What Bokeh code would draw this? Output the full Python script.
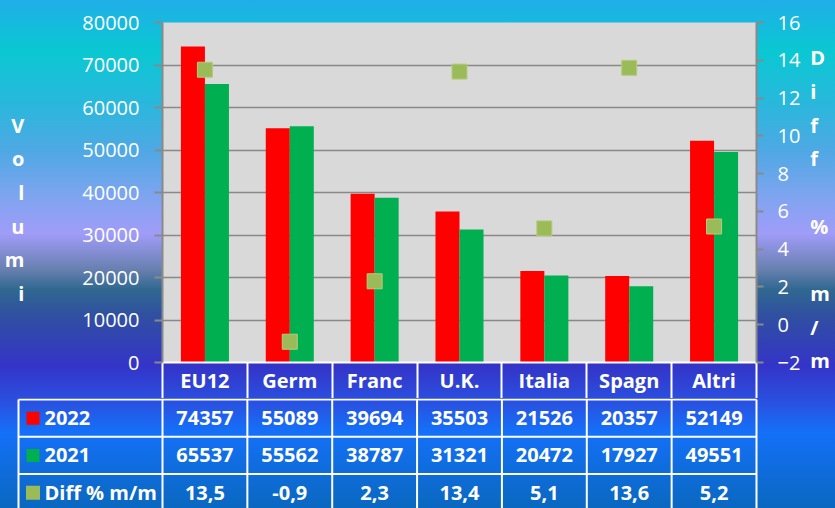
import numpy as np
from bokeh.plotting import figure
from bokeh.models import (Range1d, LinearAxis, FixedTicker, ColumnDataSource,
                          CustomJSTickFormatter, NumeralTickFormatter)
from bokeh.transform import dodge
from bokeh.embed import file_html
from bokeh.resources import INLINE
from bokeh.core.properties import value

# ---------------- data ----------------
categories = ["EU12", "Germ", "Franc", "U.K.", "Italia", "Spagn", "Altri"]
vol_2022 = [74357, 55089, 39694, 35503, 21526, 20357, 52149]
vol_2021 = [65537, 55562, 38787, 31321, 20472, 17927, 49551]
diff_pct = [13.5, -0.9, 2.3, 13.4, 5.1, 13.6, 5.2]
series_labels = ["2022", "2021", "Diff % m/m"]
left_ticks = list(range(0, 80001, 10000))
right_ticks = list(range(-2, 17, 2))
left_title = "Volumi"
right_title = "Diff % m/m"

# ---------------- style ----------------
RED, GREEN, OLIVE = "#ff0000", "#00b050", "#9bbb59"
GRID = "#898989"
FONT = "Open Sans"
W = 835
CH = 398            # chart figure height
TH = 110            # table figure height
FL, FR, FT, FB = 162, 756, 22, 362   # frame box inside the chart figure
BW = 0.283          # bar width in category units
LINE_UNIT = 26.73   # px per unit of axis-label line height at 20px
n = len(categories)

def xd(px):  # pixel x -> category-axis data x
    return (px - FL) * n / (FR - FL)

def stacked(s, pad_top):
    return "\n".join([" "] * pad_top + list(s))

src = ColumnDataSource(dict(x=np.arange(n) + 0.5, cat=categories,
                            v22=vol_2022, v21=vol_2021, diff=diff_pct))

p = figure(width=W, height=CH, x_range=Range1d(0, n), y_range=Range1d(0, 80000),
           output_backend="svg", toolbar_location=None,
           min_border_left=FL, min_border_right=W - FR, min_border_top=FT,
           min_border_bottom=CH - FB, background_fill_color="#d9d9d9",
           border_fill_alpha=0, outline_line_color=None)
p.extra_y_ranges = {"diff": Range1d(-2, 16)}

p.xgrid.visible = False
p.ygrid.ticker = FixedTicker(ticks=left_ticks)
p.ygrid.grid_line_color = GRID
p.ygrid.grid_line_width = 1.5

def style_axis(ax, tick_out, standoff):
    ax.axis_line_color = GRID
    ax.axis_line_width = 2
    ax.major_tick_line_color = GRID
    ax.major_tick_line_width = 2
    ax.major_tick_out = tick_out
    ax.major_tick_in = 0
    ax.minor_tick_line_color = None
    ax.major_label_text_font = FONT
    ax.major_label_text_font_size = "20px"
    ax.major_label_text_color = "white"
    ax.major_label_standoff = standoff
    ax.axis_label_orientation = "horizontal"
    ax.axis_label_text_font = FONT
    ax.axis_label_text_font_size = "20px"
    ax.axis_label_text_font_style = "bold"
    ax.axis_label_text_color = "white"
    ax.axis_label_text_align = "center"

# left axis
ya = p.yaxis[0]
ya.ticker = FixedTicker(ticks=left_ticks)
ya.formatter = NumeralTickFormatter(format="0")
style_axis(ya, 8, 15)
ya.axis_label = stacked(left_title, 1)
ya.axis_label_text_line_height = 33.4 / LINE_UNIT
ya.axis_label_standoff = 55

# right axis
ra = LinearAxis(y_range_name="diff", ticker=FixedTicker(ticks=right_ticks))
style_axis(ra, 7, 14)
ra.axis_label = stacked(right_title, 1)
ra.axis_label_text_line_height = 33.3 / LINE_UNIT
ra.axis_label_standoff = 7
p.add_layout(ra, "right")

# bottom axis = header row of the data table
xa = p.xaxis[0]
xa.ticker = FixedTicker(ticks=[i + 0.5 for i in range(n)], minor_ticks=list(range(n + 1)))
xa.formatter = CustomJSTickFormatter(args=dict(labels=categories),
                                     code="return labels[Math.floor(tick)]")
xa.axis_line_color = "white"
xa.axis_line_width = 2
xa.major_tick_line_color = None
xa.minor_tick_line_color = "white"
xa.minor_tick_line_width = 2
xa.minor_tick_out = CH - FB
xa.minor_tick_in = 0
xa.major_label_text_font = FONT
xa.major_label_text_font_style = "bold"
xa.major_label_text_font_size = "20px"
xa.major_label_text_color = "white"
xa.major_label_standoff = -32

p.vbar(x=dodge("x", -BW / 2, range=p.x_range), top="v22", width=BW, source=src,
       fill_color=RED, line_color=None)
p.vbar(x=dodge("x", BW / 2, range=p.x_range), top="v21", width=BW, source=src,
       fill_color=GREEN, line_color=None)
p.scatter("x", "diff", y_range_name="diff", source=src, marker="square", size=15,
          fill_color=OLIVE, line_color="#b3cc7c", line_width=1)

# ---------------- table ----------------
TL, TR = 16, 758
RH = 37.3
t = figure(width=W, height=TH,
           x_range=Range1d(xd(TL), xd(TR)),
           y_range=Range1d((TH - 1) / RH, -1 / RH),
           x_axis_type=None, y_axis_type=None,
           output_backend="svg", toolbar_location=None,
           min_border_left=TL, min_border_right=W - TR, min_border_top=0, min_border_bottom=0,
           background_fill_alpha=0, border_fill_alpha=0, outline_line_color=None)
t.grid.visible = False

nrows = len(series_labels)
left_edge = xd(18)
t.segment(x0=[left_edge] * (nrows + 1), x1=[n] * (nrows + 1),
          y0=list(range(nrows + 1)), y1=list(range(nrows + 1)),
          line_color="white", line_width=2)
vx = [left_edge] + list(range(n + 1))
t.segment(x0=vx, x1=vx, y0=[0] * len(vx), y1=[nrows] * len(vx),
          line_color="white", line_width=2)

row_y = [r + 0.5 for r in range(nrows)]
t.scatter(x=[xd(32.5)] * nrows, y=row_y, marker="square", size=[13, 13, 14],
          fill_color=[RED, GREEN, OLIVE], line_color=None)
t.text(x=[xd(44)] * nrows, y=row_y, text=series_labels, text_align="left",
       text_baseline="middle", text_font=value(FONT), text_font_size="20px",
       text_font_style="bold", text_color="white")

cell_x, cell_y, cell_t = [], [], []
rows = [[str(v) for v in vol_2022], [str(v) for v in vol_2021],
        [f"{v:.1f}".replace(".", ",") for v in diff_pct]]
for r, vals in enumerate(rows):
    for i, s in enumerate(vals):
        cell_x.append(i + 0.5)
        cell_y.append(r + 0.5)
        cell_t.append(s)
t.text(x=cell_x, y=cell_y, text=cell_t, text_align="center", text_baseline="middle",
       text_font=value(FONT), text_font_size="20px", text_font_style="bold",
       text_color="white")

html = file_html([p, t], INLINE, title="Volumi")
bg = ("linear-gradient(to bottom, #20aee8 0%, #0ac8d2 10%, #28b8dc 20%, #50a8e4 30%, "
      "#80a4f0 39%, #a09cf8 46%, #6880b0 53%, #306890 57%, #3050a0 62%, #3434c8 72%, "
      "#2a50e0 79%, #1470f8 85%, #0a68c0 100%)")
style = ("<style>html{height:100%;background:" + bg + ";background-repeat:no-repeat;"
         "background-color:#0a68c0;}body{background:transparent;}</style>")
html = html.replace("</head>", style + "</head>", 1)
open("out.html", "w").write(html)
